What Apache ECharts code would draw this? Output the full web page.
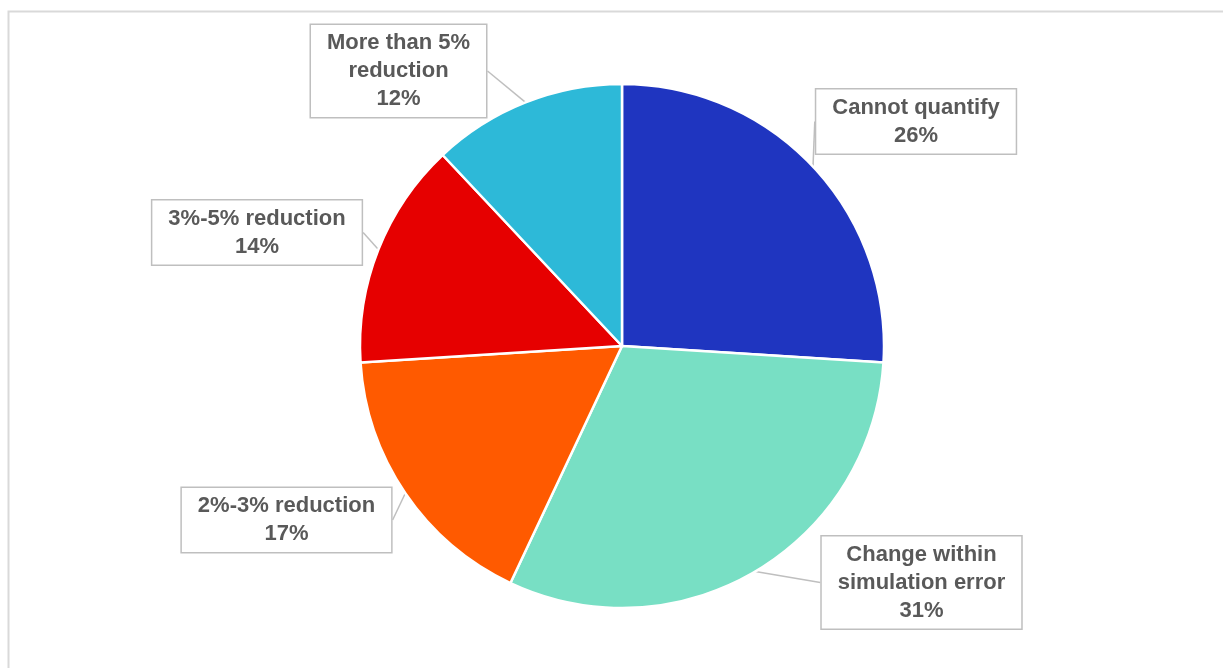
<!DOCTYPE html>
<html>
<head>
<meta charset="utf-8">
<title>Expected change</title>
<script src="https://cdn.jsdelivr.net/npm/echarts@6/dist/echarts.min.js"></script>
<style>
  html, body { margin: 0; padding: 0; background: #ffffff; }
  #chart { width: 1223px; height: 668px; }
</style>
</head>
<body>
<div id="chart"></div>
<script>
// Share of responses per category (percent), clockwise from 12 o'clock
const categories = [
  'Cannot quantify',
  'Change within\nsimulation error',
  '2%-3% reduction',
  '3%-5% reduction',
  'More than 5%\nreduction'
];
const shares = [26, 31, 17, 14, 12];
const sliceColors = ['#1F35C0', '#78DFC4', '#FF5A00', '#E60000', '#2DB9D8'];

// Where each callout box sits (centre of the box)
const calloutCentres = [
  [916, 121.5],
  [921.5, 582.5],
  [286.5, 520],
  [257, 232.5],
  [398.5, 71]
];

const chart = echarts.init(document.getElementById('chart'), null, { renderer: 'canvas' });

chart.setOption({
  animation: false,
  backgroundColor: '#ffffff',
  graphic: [{
    type: 'rect',
    shape: { x: 8.5, y: 11.5, width: 1300, height: 800 },
    style: { fill: 'none', stroke: '#d9d9d9', lineWidth: 2 },
    silent: true,
    z: -1
  }],
  series: [{
    type: 'pie',
    center: [622, 346],
    radius: 262,
    startAngle: 90,
    clockwise: true,
    avoidLabelOverlap: false,
    data: categories.map((name, i) => ({
      name: name,
      value: shares[i],
      itemStyle: { color: sliceColors[i] }
    })),
    itemStyle: { borderColor: '#ffffff', borderWidth: 2.5 },
    emphasis: { disabled: true },
    label: {
      show: true,
      position: 'outside',
      formatter: '{b}\n{c}%',
      fontFamily: 'Liberation Sans, Arial, sans-serif',
      fontSize: 22,
      fontWeight: 'bold',
      color: '#595959',
      lineHeight: 28,
      align: 'center',
      backgroundColor: '#ffffff',
      borderColor: '#bfbfbf',
      borderWidth: 1.5,
      padding: [4, 16]
    },
    labelLine: {
      show: true,
      length: 15,
      length2: 0,
      smooth: false,
      lineStyle: { color: '#bfbfbf', width: 1.5 }
    },
    labelLayout: function (params) {
      const c = calloutCentres[params.dataIndex];
      return {
        x: c[0],
        y: c[1],
        align: 'center',
        verticalAlign: 'middle'
      };
    }
  }]
});
</script>
</body>
</html>
